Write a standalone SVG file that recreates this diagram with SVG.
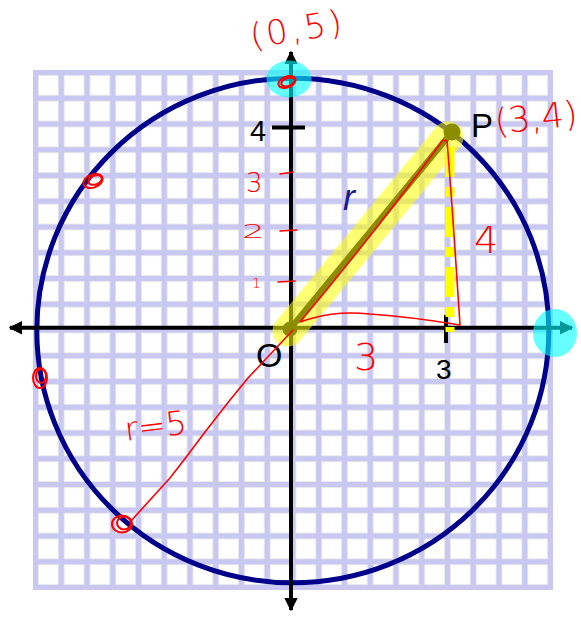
<svg xmlns="http://www.w3.org/2000/svg" width="581" height="619" viewBox="0 0 581 619">
<style>
.ax{stroke:#000;stroke-width:4;fill:none}
.red{stroke:#f00;stroke-width:1.6;fill:none;stroke-linecap:round;stroke-linejoin:round}
.scr{stroke:#f00;stroke-width:2;fill:none}
.rt{fill:#f00;font-family:"DejaVu Sans",sans-serif;font-weight:200}
.rs{fill:#f00;font-family:"DejaVu Sans",sans-serif;font-weight:300}
.bt{fill:#000;font-family:"Liberation Sans",Arial,sans-serif}
.cy{fill:#00ffff;opacity:0.6}
</style>
<defs>
<pattern id="grid" x="33" y="70" width="25.75" height="25.75" patternUnits="userSpaceOnUse">
<rect width="25.75" height="25.75" fill="#c8c8f2"/>
<rect x="5" y="5" width="20.75" height="20.75" fill="#e6e6e6"/>
<rect x="5.8" y="5.8" width="19.15" height="19.15" fill="#fff"/>
</pattern>
<marker id="ah" viewBox="0 0 10 10" refX="9" refY="5" markerWidth="3.4" markerHeight="3.4" orient="auto-start-reverse" markerUnits="strokeWidth">
<path d="M0,0 L10,5 L0,10 Z" fill="#000"/>
</marker>
</defs>

<g id="grid-bg"><rect x="33" y="70" width="520" height="520" fill="url(#grid)"/></g>

<g id="circle"><ellipse cx="292.8" cy="330.5" rx="256" ry="252.3" fill="none" stroke="#00008a" stroke-width="5"/></g>

<g id="connectors">
<line class="ax" x1="291" y1="610" x2="291" y2="52" marker-end="url(#ah)" marker-start="url(#ah)"/>
<line class="ax" x1="10" y1="327.7" x2="572" y2="327.7" marker-end="url(#ah)" marker-start="url(#ah)"/>
<line class="ax" x1="272" y1="127.5" x2="305" y2="127.5"/>
<line class="ax" x1="446" y1="315" x2="446" y2="343"/>
<line x1="290" y1="329" x2="452" y2="132" stroke="#000" stroke-width="6"/>
</g>

<g id="node-O"><circle cx="290" cy="329" r="7.5" fill="#000"/><text class="bt" x="256" y="367" font-size="34">O</text></g>
<g id="node-P"><circle cx="452" cy="132" r="8.5" fill="#000"/><text class="bt" x="471" y="137" font-size="33">P</text></g>
<g id="labels">
<text class="bt" x="250" y="141" font-size="29">4</text>
<text class="bt" x="436" y="379" font-size="28">3</text>
<text x="343" y="210" font-size="36" font-style="italic" fill="#1a1a8c" font-family="Liberation Sans,Arial,sans-serif">r</text>
</g>

<g id="highlight">
<line x1="288" y1="331" x2="448" y2="137" stroke="#ffff00" stroke-opacity="0.55" stroke-width="31" stroke-linecap="round"/>
<line x1="450" y1="147" x2="450" y2="332" stroke="#ffff00" stroke-width="9" stroke-dasharray="30 10 10 10"/>
<ellipse class="cy" cx="289" cy="79" rx="22.5" ry="18.5"/>
<ellipse class="cy" cx="555" cy="333" rx="22" ry="24"/>
</g>

<g id="annotations">
<path class="red" d="M447,141 L443,140 C410,185 372,236 300,322 C320,315 340,311 370,314 C400,316 430,320 460,325 C456,265 452,200 447,141"/>
<path class="red" d="M293,330 L248,378 L230,400 L205,432 L187,456 L170,478 L130,522"/>
<g class="scr">
<ellipse cx="287" cy="82" rx="9" ry="5.5" transform="rotate(-20 287 82)"/>
<ellipse cx="288" cy="82" rx="7" ry="4" transform="rotate(-20 288 82)"/>
<ellipse cx="93" cy="181" rx="10" ry="6.5" transform="rotate(-20 93 181)"/>
<ellipse cx="95" cy="180" rx="7" ry="4.5" transform="rotate(-20 95 180)"/>
<ellipse cx="40" cy="378" rx="7" ry="10"/>
<ellipse cx="41" cy="376" rx="5" ry="7"/>
<ellipse cx="122" cy="524" rx="10" ry="8.5"/>
<ellipse cx="124" cy="523" rx="7" ry="6.5"/>
</g>
<path class="red" d="M280,174 L293,172 M280,231 L297,230 M278,282 L295,281"/>
<text class="rt" x="252" y="48" font-size="34" letter-spacing="3" transform="rotate(-9 252 48)">(0,5)</text>
<text class="rt" x="496" y="134" font-size="35" transform="rotate(-6 496 134)">(3,4)</text>
<text class="rt" x="126" y="441" font-size="33" transform="rotate(-7 126 441)">r=5</text>
<text class="rt" x="354" y="370" font-size="38">3</text>
<text class="rt" x="474" y="253" font-size="38">4</text>
<text class="rs" x="246" y="192" font-size="26">3</text>
<text class="rs" x="242" y="238" font-size="19" textLength="23" lengthAdjust="spacingAndGlyphs">2</text>
<text class="rs" x="252" y="288" font-size="14">1</text>
</g>
</svg>
